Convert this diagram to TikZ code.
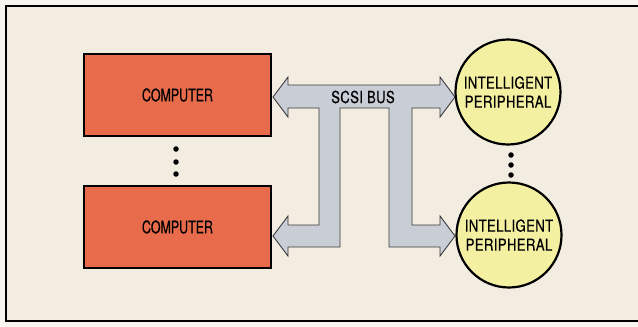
\documentclass[tikz,border=0pt]{standalone}
\usepackage{fontspec}
\newfontfamily\condfont[FakeStretch=0.71,FakeBold=0.4]{TeX Gyre Heros}
\newfontfamily\condwide[FakeStretch=0.8,FakeBold=0.4,LetterSpace=2]{TeX Gyre Heros}
\definecolor{paper}{HTML}{F8F5EE}
\definecolor{cream}{HTML}{F3EDE1}
\definecolor{comp}{HTML}{E86B4C}
\definecolor{periph}{HTML}{F4F0A2}
\definecolor{busfill}{HTML}{C9CDD6}
\definecolor{busline}{HTML}{3A3A3A}
\begin{document}
\begin{tikzpicture}[x=1pt,y=-1pt,
  compbox/.style={draw=black,line width=2.6pt,fill=comp,minimum width=187pt,minimum height=82pt,inner sep=0pt,font=\condfont\fontsize{17.5}{19}\selectfont},
  periphnode/.style={circle,draw=black,line width=2.2pt,fill=periph,minimum size=105pt,inner sep=0pt,align=center,font=\condwide\fontsize{16.5}{19}\selectfont},
  dotmark/.style={circle,fill=black,inner sep=0pt,minimum size=5.5pt},
  bus/.style={draw=busline,line width=0.9pt,fill=busfill,line join=miter}
]
\useasboundingbox (0,0) rectangle (638,327);
\fill[paper] (0,0) rectangle (638,327);
\draw[line width=1.6pt,fill=cream] (6,6) rectangle (645,321);

% bus
\draw[bus] (273,97) -- (288,77) -- (288,85) -- (440,85) -- (440,77) -- (455,97)
  -- (440,117) -- (440,108) -- (412,108) -- (412,225) -- (440,225) -- (440,216)
  -- (455,236) -- (440,256) -- (440,247) -- (389,247) -- (389,108) -- (340,108)
  -- (340,247) -- (288,247) -- (288,256) -- (273,236) -- (288,216) -- (288,225)
  -- (319,225) -- (319,108) -- (288,108) -- (288,117) -- cycle;
\node[font=\condwide\fontsize{16.5}{18}\selectfont] (buslabel) at (363,97) {SCSI BUS};

\node[compbox] (c1) at (177.5,95) {COMPUTER};
\node[compbox] (c2) at (177.5,227) {COMPUTER};

\node[periphnode] (p1) at (508,92) {INTELLIGENT\\PERIPHERAL};
\node[periphnode] (p2) at (509,235) {INTELLIGENT\\PERIPHERAL};

\node[dotmark] (d1) at (176,149) {};
\node[dotmark] (d2) at (176,162) {};
\node[dotmark] (d3) at (176,174) {};
\node[dotmark] (e1) at (511,155) {};
\node[dotmark] (e2) at (511,165) {};
\node[dotmark] (e3) at (511,175) {};
\end{tikzpicture}
\end{document}
